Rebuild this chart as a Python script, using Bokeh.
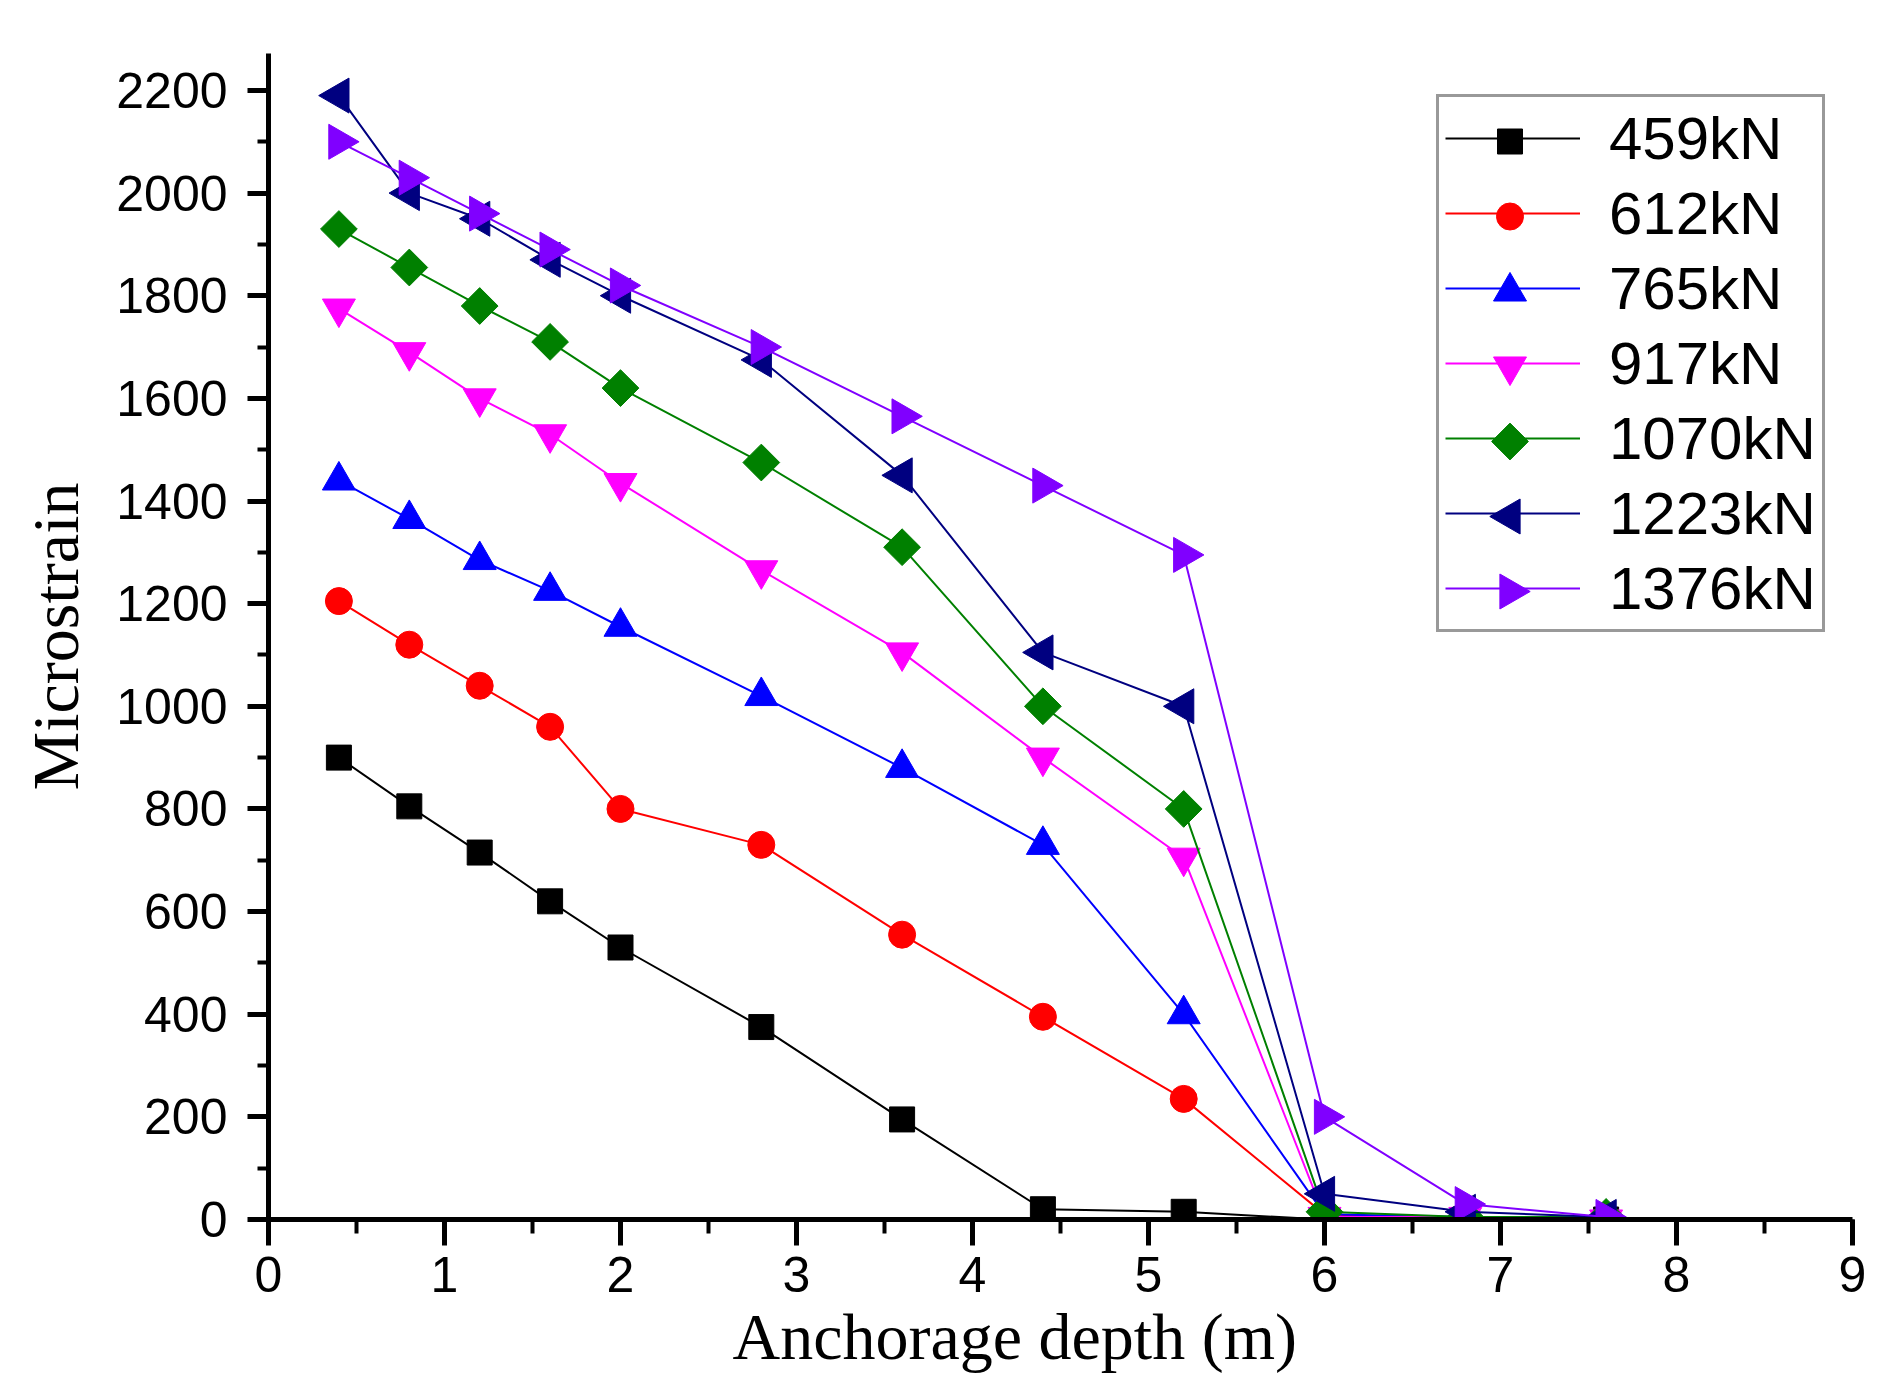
from math import pi
from bokeh.plotting import figure
from bokeh.models import Range1d, SingleIntervalTicker, Title, Legend, LegendItem
from bokeh.embed import file_html
from bokeh.resources import INLINE

# ---- data ----
depth = [0.4, 0.8, 1.2, 1.6, 2.0, 2.8, 3.6, 4.4, 5.2, 6.0, 6.8, 7.6]

s459 = [900, 805, 715, 620, 530, 375, 195, 20, 15, 0, 0, 0]
s612 = [1205, 1120, 1040, 960, 800, 730, 555, 395, 235, 10, 0, 0]
s765 = [1440, 1365, 1285, 1225, 1155, 1020, 880, 730, 400, 10, 5, 0]
s917 = [1775, 1690, 1600, 1530, 1435, 1265, 1105, 900, 705, 5, 5, 0]
s1070 = [1930, 1855, 1780, 1710, 1620, 1475, 1310, 1000, 800, 15, 5, 5]
s1223 = [2190, 2000, 1950, 1870, 1800, 1675, 1450, 1105, 1000, 50, 15, 5]
s1376 = [2100, 2030, 1960, 1890, 1820, 1700, 1565, 1430, 1295, 200, 30, 5]

labels = ["459kN", "612kN", "765kN", "917kN", "1070kN", "1223kN", "1376kN"]
series = [s459, s612, s765, s917, s1070, s1223, s1376]

# ---- styles ----
colors = ["#000000", "#ff0000", "#0000ff", "#ff00ff", "#008000", "#000080", "#8000ff"]
# (marker, size, angle)
markers = [("square", 25, 0), ("circle", 27, 0), ("triangle", 33, 0),
           ("inverted_triangle", 33, 0), ("square", 26, pi / 4),
           ("triangle", 35, pi / 2), ("triangle", 35, -pi / 2)]

# ---- layout ----
W, H = 1882, 1392
LEFT, TOP, RIGHT, BOTTOM = 268, 53, 1852, 1219
FW, FH = RIGHT - LEFT, BOTTOM - TOP

p = figure(width=W, height=H, output_backend="svg", toolbar_location=None,
           x_range=Range1d(0, 9), y_range=Range1d(0, 2272),
           min_border_left=LEFT, min_border_right=W - RIGHT,
           min_border_top=TOP, min_border_bottom=H - BOTTOM,
           y_axis_label="Microstrain")

p.grid.visible = False
p.outline_line_color = None
p.background_fill_color = "white"

p.xaxis.ticker = SingleIntervalTicker(interval=1, num_minor_ticks=2)
p.yaxis.ticker = SingleIntervalTicker(interval=200, num_minor_ticks=2)

for ax in (p.xaxis, p.yaxis):
    ax.axis_line_width = 5
    ax.axis_line_color = "black"
    ax.major_tick_line_width = 5
    ax.minor_tick_line_width = 4
    ax.major_tick_in = 0
    ax.minor_tick_in = 0
    ax.major_label_text_font = "Liberation Sans"
    ax.major_label_text_font_size = "50px"
    ax.major_label_text_color = "black"
    ax.axis_label_text_font = "Liberation Serif"
    ax.axis_label_text_font_size = "66px"
    ax.axis_label_text_font_style = "normal"
    ax.axis_label_text_color = "black"

p.xaxis.major_tick_out = 26
p.xaxis.minor_tick_out = 14
p.xaxis.major_label_standoff = 11
p.yaxis.major_tick_out = 21
p.yaxis.minor_tick_out = 11
p.yaxis.major_label_standoff = 20
p.yaxis.axis_label_standoff = 21

# x-axis title, slightly left of the frame centre as in the reference
p.add_layout(Title(text="Anchorage depth (m)", align="left", offset=464,
                   text_font="Liberation Serif", text_font_size="66px",
                   text_font_style="normal", text_color="black", standoff=6),
             "below")

line_renderers = []
for lab, ys, col, (mk, sz, ang) in zip(labels, series, colors, markers):
    lr = p.line(depth, ys, line_color=col, line_width=2)
    p.scatter(depth, ys, marker=mk, size=sz, angle=ang, fill_color=col,
              line_color=col, line_width=1)
    line_renderers.append(lr)

# ---- legend ----
LEG_PAD, LEG_SPACING, ITEM_H, GLYPH_W, STANDOFF = 6, 5, 70, 135, 29
LEG_LEFT, LEG_TOP = 1436, 100
n = len(labels)
leg_h = n * ITEM_H + (n - 1) * LEG_SPACING + 2 * LEG_PAD
leg_x = LEG_LEFT - LEFT
leg_y = BOTTOM - LEG_TOP - leg_h

legend = Legend(items=[LegendItem(label=l, renderers=[r]) for l, r in zip(labels, line_renderers)],
                location=(leg_x, leg_y))
legend.background_fill_alpha = 0.0
legend.border_line_color = "#333333"
legend.border_line_width = 3
legend.label_text_font = "Liberation Sans"
legend.label_text_font_size = "60px"
legend.label_text_color = "black"
legend.glyph_width = GLYPH_W
legend.glyph_height = ITEM_H
legend.label_height = ITEM_H
legend.label_standoff = STANDOFF
legend.spacing = LEG_SPACING
legend.padding = LEG_PAD
legend.margin = 0
p.add_layout(legend, "center")

# legend key markers, drawn in frame pixel space so rotated markers show as in the reference
p.extra_x_ranges = {"px": Range1d(0, FW)}
p.extra_y_ranges = {"py": Range1d(0, FH)}
key_x = leg_x + LEG_PAD + GLYPH_W / 2
for i, (col, (mk, sz, ang)) in enumerate(zip(colors, markers)):
    key_y = leg_y + leg_h - LEG_PAD - i * (ITEM_H + LEG_SPACING) - ITEM_H / 2
    p.scatter([key_x], [key_y], marker=mk, size=sz, angle=ang, fill_color=col,
              line_color=col, line_width=1, x_range_name="px", y_range_name="py",
              level="overlay")

open("out.html", "w").write(file_html(p, INLINE))
